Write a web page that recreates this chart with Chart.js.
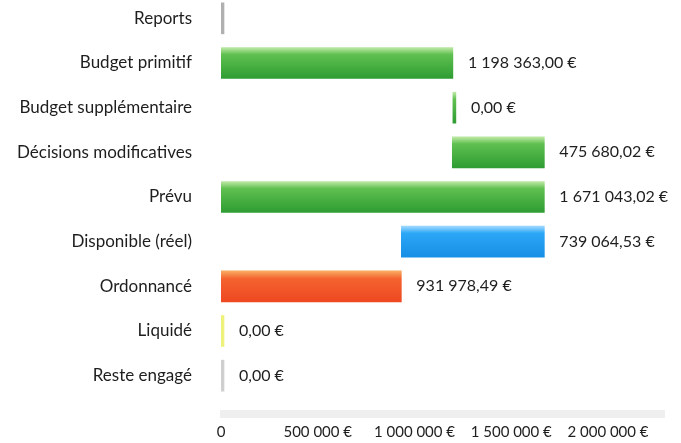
<!DOCTYPE html>
<html><head><meta charset="utf-8">
<script src="https://cdn.jsdelivr.net/npm/chart.js@4/dist/chart.umd.min.js"></script>
<style>
html,body{margin:0;padding:0;background:#fff;overflow:hidden;width:681px;height:443px}
#c{position:absolute;left:0;top:-4px;width:681px;height:447px}
</style></head><body>
<canvas id="c" width="681" height="447"></canvas>
<script>
// ---- data ----
const categories = ["Reports","Budget primitif","Budget supplémentaire","Décisions modificatives","Prévu","Disponible (réel)","Ordonnancé","Liquidé","Reste engagé"];
const barStarts = [0, 0, 1198363.00, 1195363.00, 0, 931978.49, 0, 0, 0];
const amounts   = [0, 1198363.00, 0, 475680.02, 1671043.02, 739064.53, 931978.49, 0, 0];
const showValue = [false, true, true, true, true, true, true, true, true];
const xTicks    = [0, 500000, 1000000, 1500000, 2000000];

// ---- styles ----
const GREEN = [[0,"#b8e6a0"],[0.22,"#5fc050"],[1,"#2f9d33"]];
const palette = [
  {color:"#b0b0b0"},
  {stops:GREEN},
  {stops:GREEN},
  {stops:GREEN},
  {stops:GREEN},
  {stops:[[0,"#98d6ff"],[0.22,"#2ca6f6"],[1,"#168fe6"]]},
  {stops:[[0,"#f9a860"],[0.25,"#f4622f"],[1,"#ee4922"]]},
  {color:"#eef27a"},
  {color:"#cfcfcf"}
];

function groupThousands(s){ return s.replace(/\B(?=(\d{3})+(?!\d))/g, " "); }
function euro(v){ const p = v.toFixed(2).split("."); return groupThousands(p[0]) + "," + p[1] + " €"; }

function fill(ctx){
  const p = palette[ctx.dataIndex] || {color:"#999"};
  if (!p.stops) return p.color;
  const chart = ctx.chart;
  const y = chart.scales && chart.scales.y;
  if (!y || !chart.chartArea) return p.stops[p.stops.length-1][1];
  const c = y.getPixelForValue(ctx.dataIndex);
  const g = chart.ctx.createLinearGradient(0, c-15, 0, c+15);
  p.stops.forEach(s => g.addColorStop(s[0], s[1]));
  return g;
}

const valueLabels = {
  id: "valueLabels",
  afterDatasetsDraw(chart){
    const meta = chart.getDatasetMeta(0);
    const c = chart.ctx;
    c.save();
    c.font = "16px Lato";
    c.fillStyle = "#1e1e1e";
    c.textBaseline = "middle";
    c.textAlign = "left";
    meta.data.forEach((el, i) => {
      if (!showValue[i]) return;
      const right = Math.max(el.x, el.base);
      c.fillText(euro(amounts[i]), right + 15, el.y);
    });
    c.restore();
  }
};

const axisBand = {
  id: "axisBand",
  beforeDatasetsDraw(chart){
    const a = chart.chartArea, c = chart.ctx;
    c.save();
    c.fillStyle = "#efefef";
    c.fillRect(a.left - 1, a.bottom + 12, 445, 8);
    c.restore();
  }
};

new Chart(document.getElementById("c"), {
  type: "bar",
  data: {
    labels: categories,
    datasets: [{
      data: barStarts.map((s, i) => [s, s + amounts[i]]),
      backgroundColor: fill,
      borderWidth: 0,
      barThickness: 31,
      minBarLength: 3,
      borderSkipped: false
    }]
  },
  options: {
    indexAxis: "y",
    responsive: false,
    animation: false,
    layout: { padding: { left: 0, right: 73, top: 0, bottom: 2 } },
    plugins: { legend: { display: false }, tooltip: { enabled: false } },
    scales: {
      x: {
        min: 0, max: 2000000,
        afterBuildTicks(scale){ scale.ticks = xTicks.map(v => ({ value: v })); },
        afterFit(scale){ scale.paddingLeft = 0; scale.paddingRight = 0; scale.height = 43; },
        grid: { display: false, drawTicks: false },
        border: { display: false },
        ticks: {
          padding: 25,
          color: "#1e1e1e",
          font: { family: "Lato", size: 15 },
          maxRotation: 0,
          autoSkip: false,
          callback: v => v === 0 ? "0" : groupThousands(String(v)) + " €"
        }
      },
      y: {
        afterFit(scale){ scale.width = 221; scale.paddingTop = 0; scale.paddingBottom = 0; },
        grid: { display: false, drawTicks: false },
        border: { display: false },
        ticks: {
          padding: 29,
          color: "#1e1e1e",
          font: { family: "Lato", size: 17 }
        }
      }
    }
  },
  plugins: [axisBand, valueLabels]
});
</script>
</body></html>
